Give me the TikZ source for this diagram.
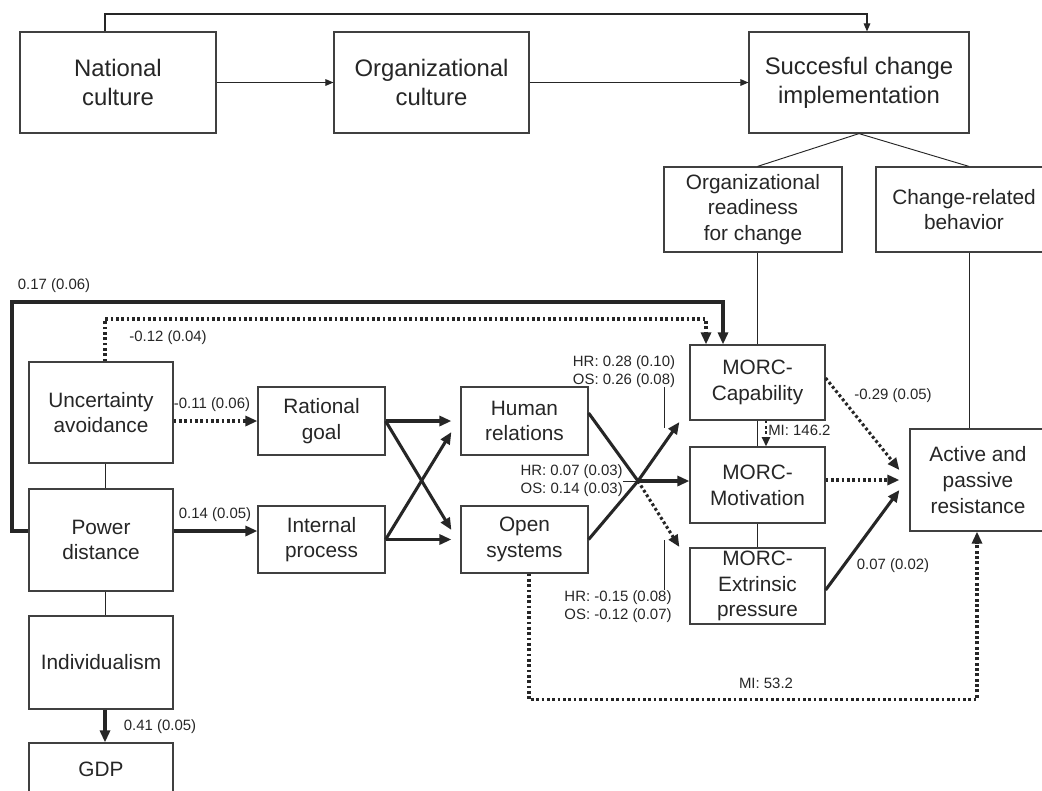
\documentclass[tikz,border=0pt]{standalone}
\usepackage{fontspec}
\setmainfont{Liberation Sans}
\usetikzlibrary{arrows.meta,calc}
\pgfdeclarelayer{bg}
\pgfsetlayers{bg,main}
\colorlet{ink}{black!85}
\newcommand\bigtext{\fontsize{17.9}{21.75}\selectfont}
\newcommand\midtext{\fontsize{15.6}{19.3}\selectfont}
\newcommand\labtext{\fontsize{11.2}{13.5}\selectfont}
\newcommand\mkbox[7]{\node[box,font=#7,minimum width={(#4-#2)*0.75pt},minimum height={(#5-#3)*0.75pt}] (#1) at ({(#2+#4)/2},{(#3+#5)/2}) {#6};}
\tikzset{
  box/.style={draw=black!75,line width=0.9pt,fill=white,inner sep=0pt,align=center,text=ink},
  lab/.style={font=\labtext,inner sep=0pt,align=center,text=ink},
  thinl/.style={draw=ink,line width=0.7pt},
  thinarr/.style={draw=ink,line width=0.8pt,-{Triangle[length=6pt,width=5pt]}},
  thickarr/.style={draw=ink,line width=2.3pt,-{Triangle[length=9pt,width=7.5pt]}},
  thickl/.style={draw=ink,line width=2.3pt},
  dotarr/.style={draw=ink,line width=2.3pt,dash pattern=on 2.1pt off 1.9pt,-{Triangle[length=9pt,width=7.5pt]}},
}
\begin{document}
\begin{tikzpicture}[x=0.75pt,y=-0.75pt]
\useasboundingbox (0,0) rectangle (1042,790);
\fill[white] (0,0) rectangle (1042,790);
\clip (0,0) rectangle (1042,790);
% boxes
\mkbox{nat}{20}{32}{216}{133}{National\\culture}{\bigtext}
\mkbox{org}{334}{32}{529}{133}{Organizational\\culture}{\bigtext}
\mkbox{succ}{749}{32}{969}{133}{Succesful change\\implementation}{\bigtext}
\mkbox{ready}{664}{167}{842}{252}{Organizational\\readiness\\for change}{\midtext}
\mkbox{crb}{876}{167}{1052}{252}{Change-related\\behavior}{\midtext}
\mkbox{ua}{29}{362}{173}{463}{Uncertainty\\avoidance}{\midtext}
\mkbox{pd}{29}{489}{173}{591}{Power\\distance}{\midtext}
\mkbox{ind}{29}{616}{173}{709}{Individualism}{\midtext}
\mkbox{gdp}{29}{743}{173}{795}{GDP}{\midtext}
\mkbox{rg}{258}{387}{385}{455}{Rational\\goal}{\midtext}
\mkbox{ip}{258}{506}{385}{573}{Internal\\process}{\midtext}
\mkbox{hr}{461}{387}{588}{455}{Human\\relations}{\midtext}
\mkbox{os}{461}{506}{588}{573}{Open\\systems}{\midtext}
\mkbox{cap}{690}{345}{825}{420}{MORC-\\Capability}{\midtext}
\mkbox{mot}{690}{447}{825}{523}{MORC-\\Motivation}{\midtext}
\mkbox{ext}{690}{548}{825}{624}{MORC-\\Extrinsic\\pressure}{\midtext}
\mkbox{act}{910}{429}{1046}{531}{Active and\\passive\\resistance}{\midtext}
% coordinates
\coordinate (xl) at (105,0);
\coordinate (tp) at (867,14);
\coordinate (xc) at (969,0);
\coordinate (orgb) at (427,133);
\coordinate (ipt) at (363,506);
\coordinate (ost) at (479,506);
\coordinate (X) at (638,481);
\coordinate (tl) at (12,302);
\coordinate (th) at (723,302);
\coordinate (dt) at (706,319);
\coordinate (a1) at (664,387);
\coordinate (a2) at (664,428);
\coordinate (b1) at (664,540);
\coordinate (b2) at (664,590);
% background thin lines
\begin{pgfonlayer}{bg}
\draw[thinl] (orgb) -- (ipt);
\draw[thinl] (orgb) -- (ost);
\draw[thinl] (nat.south -| xl) -- (ua.north -| xl);
\end{pgfonlayer}
% top structure
\draw[thinarr] (nat.north -| xl) |- (tp) -- (succ.north -| tp);
\draw[thinarr] (nat) -- (org);
\draw[thinarr] (org) -- (succ);
\draw[thinl] (succ.south) -- (ready.north -| cap.north);
\draw[thinl] (succ.south) -- (crb.north -| xc);
\draw[thinl] (ready.south -| cap.north) -- (cap.north);
\draw[thinl] (crb.south -| xc) -- (act.north -| xc);
% left chain
\draw[thinl] (ua.south -| xl) -- (pd.north -| xl);
\draw[thinl] (pd.south -| xl) -- (ind.north -| xl);
\draw[thickarr] (ind.south -| xl) -- (gdp.north -| xl);
% long paths to capability
\draw[thickarr] ($(pd.west)+(0,-9)$) -| (tl) -- (th) -- (th |- cap.north);
\draw[dotarr] (ua.north -| xl) |- (dt) -- (dt |- cap.north);
% national to org subdims
\draw[dotarr] (rg.west -| ua.east) -- (rg.west);
\draw[thickarr] ($(pd.east)+(0,-9)$) -- ($(ip.west)+(0,-8.5)$);
% org subdims crossing
\draw[thickarr] (rg.east) -- ($(hr.west)+(-9,0)$);
\draw[thickarr] (rg.east) -- ($(os.west)+(-9,-9.5)$);
\draw[thickarr] (ip.east) -- ($(hr.west)+(-9,11)$);
\draw[thickarr] (ip.east) -- ($(os.west)+(-9,0)$);
% to MORC
\draw[thickl] ($(hr.east)+(0,-8)$) -- (X);
\draw[thickl] (os.east) -- (X);
\draw[thickarr] (X) -- ($(cap.west)+(-10,39.5)$);
\draw[thickarr] (X) -- (mot.west |- X);
\draw[dotarr] (X) -- ($(ext.west)+(-10,-39)$);
% MORC chain
\draw[thinl] (cap.south) -- (mot.north);
\draw[thinl] (mot.south) -- (ext.north);
\draw[dotarr,line width=1.9pt,-{Triangle[length=7pt,width=6pt]}] ($(cap.south)+(8.5,0)$) -- ($(mot.north)+(8.5,0)$);
% to resistance
\draw[dotarr] ($(cap.east)+(0,-4.5)$) -- ($(act.west)+(-10,-10)$);
\draw[dotarr] ($(mot.east)+(0,-5)$) -- ($(act.west)+(-10,0)$);
\draw[thickarr] ($(ext.east)+(0,4)$) -- ($(act.west)+(-10,10)$);
\draw[dotarr] ($(os.south)+(4.5,0)$) -- ++(0,126) -| ($(act.south)+(-1,0)$);
% labels
\node[lab] (l1) at (54,286) {0.17 (0.06)};
\node[lab] (l2) at (168,338) {-0.12 (0.04)};
\node[lab] (l3) at (212,405) {-0.11 (0.06)};
\node[lab] (l4) at (215,515) {0.14 (0.05)};
\node[lab] (l5) at (160,727) {0.41 (0.05)};
\node[lab] (l6) at (624,371.5) {HR: 0.28 (0.10)\\OS: 0.26 (0.08)};
\node[lab,anchor=east] (l7) at (623,481) {HR: 0.07 (0.03)\\OS: 0.14 (0.03)};
\node[lab] (l8) at (618,607) {HR: -0.15 (0.08)\\OS: -0.12 (0.07)};
\node[lab,anchor=west] (l9) at (768,430) {MI: 146.2};
\node[lab] (l10) at (893,396) {-0.29 (0.05)};
\node[lab] (l11) at (893,566) {0.07 (0.02)};
\node[lab] (l12) at (766,683) {MI: 53.2};
% leaders
\draw[thinl] (a1) -- (a2);
\draw[thinl] (b1) -- (b2);
\draw[thinl] (l7.east) -- (X);
\end{tikzpicture}
\end{document}
